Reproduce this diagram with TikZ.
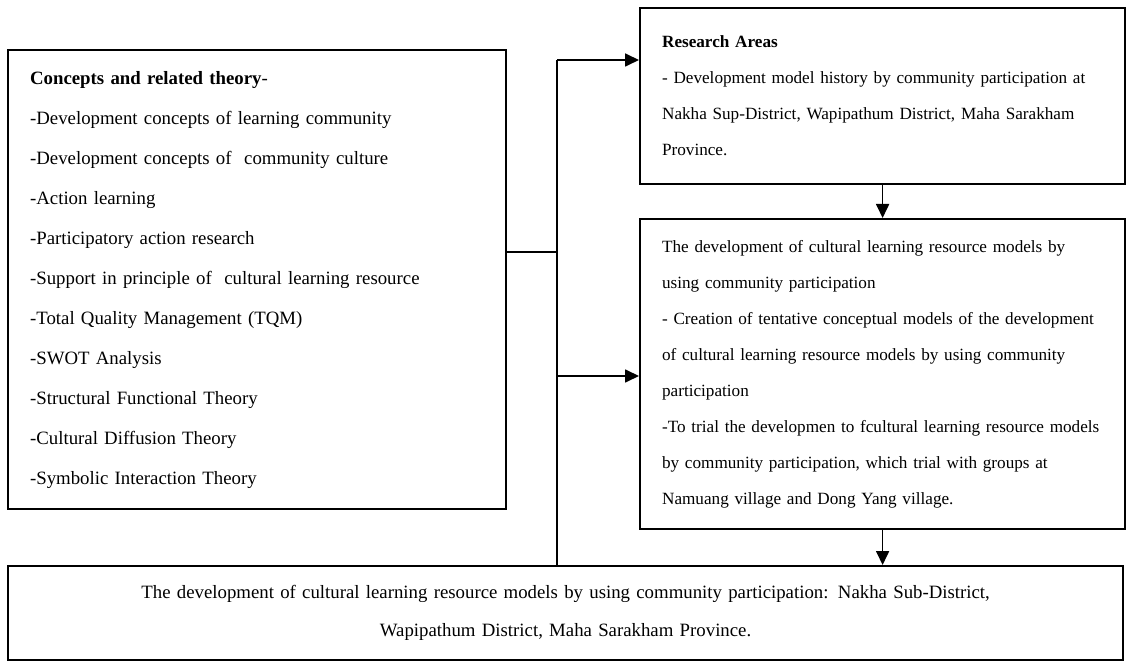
\documentclass[tikz,border=0pt]{standalone}
\usepackage{fontspec}
\setmainfont{Liberation Serif}
\usetikzlibrary{arrows.meta}

\begin{document}
\begin{tikzpicture}[
  x=0.5pt, y=-0.5pt,
  box/.style={rectangle, draw, line width=1.1pt, anchor=north west, inner xsep=11pt, inner ysep=0pt, align=left},
  wide/.style={font=\fontsize{9.4}{20}\selectfont},
  narrow/.style={font=\fontsize{8.58}{18}\selectfont, text width=220.5pt, minimum width=242.5pt},
  link/.style={line width=0.85pt},
  arrow/.style={link, -{Triangle[length=7pt, width=6.5pt]}}
]
\useasboundingbox (0,0) rectangle (1127,662);

% boxes
\node[box, wide, text width=227pt, minimum width=249pt, minimum height=229.5pt] (theory) at (7,49)
  {\textbf{Concepts and related theory}-\\
   -Development concepts of learning community\\
   -Development concepts of~ community culture\\
   -Action learning\\
   -Participatory action research\\
   -Support in principle of~ cultural learning resource\\
   -Total Quality Management (TQM)\\
   -SWOT Analysis\\
   -Structural Functional Theory\\
   -Cultural Diffusion Theory\\
   -Symbolic Interaction Theory};
\node[box, narrow, minimum height=88pt] (areas) at (639,7)
  {\textbf{Research Areas}\\
   - Development model history by community participation at\\
   Nakha Sup-District, Wapipathum District, Maha Sarakham\\
   Province.};
\node[box, narrow, minimum height=155pt] (model) at (639,218)
  {The development of cultural learning resource models by\\
   using community participation\\
   - Creation of tentative conceptual models of the development\\
   of cultural learning resource models by using community\\
   participation\\
   -To trial the developmen to fcultural learning resource models\\
   by community participation, which trial with groups at\\
   Namuang village and Dong Yang village.};
\node[box, font=\fontsize{9.4}{19}\selectfont, align=center, text width=535.5pt, minimum width=557.5pt, minimum height=47pt] (result) at (7,565)
  {The development of cultural learning resource models by using community participation: Nakha Sub-District,\\
   Wapipathum District, Maha Sarakham Province.};

% connectors
\coordinate (bustop) at (557,60);
\coordinate (busjoin) at (557,252);
\coordinate (busmid) at (557,376);
\draw[link] (theory.east |- busjoin) -- (busjoin);
\draw[link] (bustop) -- (bustop |- result.north);
\draw[arrow] (bustop) -- (bustop -| areas.west);
\draw[arrow] (busmid) -- (busmid -| model.west);
\draw[arrow] (areas.south) -- (model.north);
\draw[arrow] (model.south) -- (model.south |- result.north);
\end{tikzpicture}
\end{document}
